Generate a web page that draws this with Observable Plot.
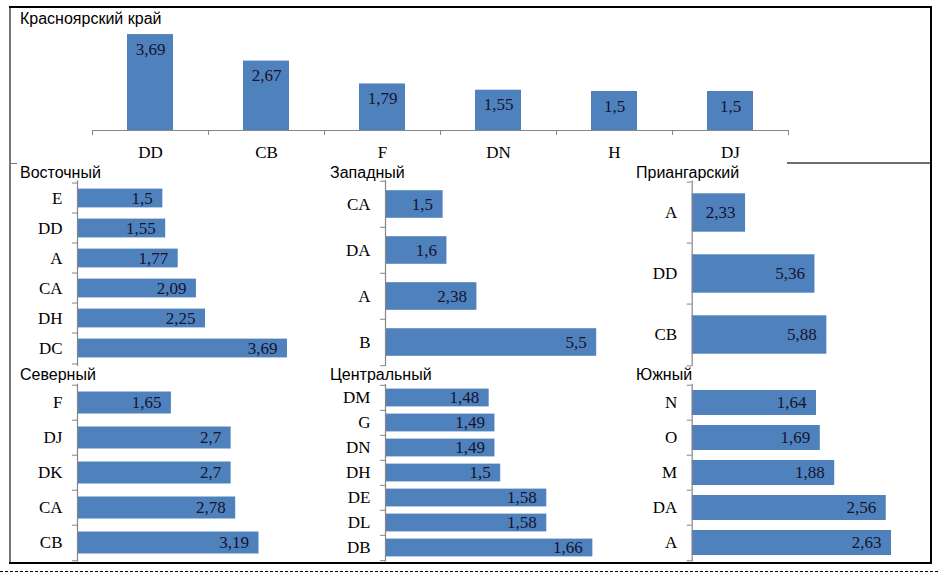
<!DOCTYPE html>
<html>
<head>
<meta charset="utf-8">
<script src="https://cdn.jsdelivr.net/npm/d3@7"></script>
<script src="https://cdn.jsdelivr.net/npm/@observablehq/plot@0.6"></script>
<style>
  body { margin: 0; background: #fff; }
  #wrap { position: relative; width: 938px; height: 572px; overflow: hidden; background: #fff; }
  .title { position: absolute; font-family: "Liberation Sans", Arial, sans-serif; font-size: 16px; line-height: 16px; color: #000; white-space: nowrap; }
  .ln { position: absolute; }
</style>
</head>
<body>
<div id="wrap"></div>
<script>
// ---- data ----
const krayCategories = ["DD", "CB", "F", "DN", "H", "DJ"];
const krayValues = [3.69, 2.67, 1.79, 1.55, 1.5, 1.5];

const vostCategories = ["E", "DD", "A", "CA", "DH", "DC"];
const vostValues = [1.5, 1.55, 1.77, 2.09, 2.25, 3.69];

const zapCategories = ["CA", "DA", "A", "B"];
const zapValues = [1.5, 1.6, 2.38, 5.5];

const priCategories = ["A", "DD", "CB"];
const priValues = [2.33, 5.36, 5.88];

const sevCategories = ["F", "DJ", "DK", "CA", "CB"];
const sevValues = [1.65, 2.7, 2.7, 2.78, 3.19];

const cenCategories = ["DM", "G", "DN", "DH", "DE", "DL", "DB"];
const cenValues = [1.48, 1.49, 1.49, 1.5, 1.58, 1.58, 1.66];

const yugCategories = ["N", "O", "M", "DA", "A"];
const yugValues = [1.64, 1.69, 1.88, 2.56, 2.63];

const titles = ["Красноярский край", "Восточный", "Западный", "Приангарский", "Северный", "Центральный", "Южный"];

// ---- styling / layout ----
const W = 938, H = 572;
const BLUE = "#4f81bd";
const AXIS = "#868686";
const VALUE_COLOR = "#141430";
const SERIF = "'Liberation Serif', 'Times New Roman', serif";
const fmt = v => String(v).replace(".", ",");
const svgStyle = `position:absolute;left:0;top:0;background:transparent;overflow:visible;font-family:${SERIF};font-size:17px;color:#000;max-width:none;`;

const wrap = document.getElementById("wrap");

function line(css) {
  const d = document.createElement("div");
  d.className = "ln";
  d.style.cssText = css;
  wrap.appendChild(d);
}
function title(text, left, top) {
  const d = document.createElement("div");
  d.className = "title";
  d.textContent = text;
  d.style.left = left + "px";
  d.style.top = top + "px";
  wrap.appendChild(d);
}

// frame
line("left:9px;top:6px;width:1.5px;height:557px;background:#777;");
line("left:9px;top:162.5px;width:8px;height:1.5px;background:#777;");
line("left:787px;top:162px;width:143px;height:2px;background:#6e6e6e;");
line("left:9px;top:5.5px;width:922px;height:2px;background:#000;");
line("left:929.5px;top:5.5px;width:2px;height:558px;background:#000;");
line("left:9px;top:561.5px;width:922px;height:2px;background:#000;");
line("left:0;top:571px;width:938px;height:0;border-top:1px dashed #000;");

// ---- top column chart ----
function columnPanel(cats, vals, opt) {
  const data = cats.map((c, i) => ({cat: c, value: vals[i]}));
  const step = (opt.right - opt.left) / cats.length;
  return Plot.plot({
    width: W, height: H,
    marginLeft: opt.left, marginRight: W - opt.right,
    marginTop: opt.top, marginBottom: H - opt.bottom,
    style: svgStyle,
    x: {domain: cats, padding: 0, tickSize: 0, tickPadding: 15, label: null},
    y: {domain: opt.yDomain, axis: null},
    marks: [
      Plot.barY(data, {x: "cat", y: "value", fill: BLUE, insetLeft: opt.inset, insetRight: opt.inset}),
      Plot.ruleY([opt.yDomain[0]], {stroke: AXIS, strokeWidth: 1.2}),
      Plot.ruleX(cats, {x: d => d, y1: opt.yDomain[0], y2: opt.yDomain[0], insetTop: 5, dx: -step / 2, stroke: AXIS}),
      Plot.ruleX([cats[cats.length - 1]], {x: d => d, y1: opt.yDomain[0], y2: opt.yDomain[0], insetTop: 5, dx: step / 2, stroke: AXIS}),
      Plot.text(data, {x: "cat", y: "value", text: d => fmt(d.value), lineAnchor: "top", dy: 8, fill: VALUE_COLOR, fontSize: 17})
    ]
  });
}

// ---- horizontal bar panels ----
function barPanel(cats, vals, opt) {
  const data = cats.map((c, i) => ({cat: c, value: vals[i]}));
  const n = cats.length;
  const step = (opt.bottom - opt.top) / n;
  const x0 = opt.xDomain[0];
  return Plot.plot({
    width: W, height: H,
    marginLeft: opt.left, marginRight: W - opt.right,
    marginTop: opt.top, marginBottom: H - opt.bottom,
    style: svgStyle,
    x: {domain: opt.xDomain, axis: null},
    y: {domain: cats, padding: 0, tickSize: 0, tickPadding: 15, label: null},
    marks: [
      Plot.barX(data, {x1: x0, x2: "value", y: "cat", fill: BLUE, insetTop: opt.inset, insetBottom: opt.inset}),
      Plot.ruleX([x0], {stroke: AXIS, strokeWidth: 1.2}),
      Plot.ruleY(cats, {y: d => d, x1: x0, x2: x0, insetRight: 5, dy: -step / 2, stroke: AXIS}),
      Plot.ruleY([cats[n - 1]], {y: d => d, x1: x0, x2: x0, insetRight: 5, dy: step / 2, stroke: AXIS}),
      Plot.text(data, {x: "value", y: "cat", text: d => fmt(d.value), textAnchor: "end", dx: -10, fill: VALUE_COLOR, fontSize: 17})
    ]
  });
}

const panels = [
  columnPanel(krayCategories, krayValues, {left: 92, right: 788, top: 26, bottom: 130, yDomain: [0, 4], inset: 35}),
  barPanel(vostCategories, vostValues, {left: 77, right: 304.6, top: 180.5, bottom: 366, xDomain: [0, 4], inset: 5.6}),
  barPanel(zapCategories, zapValues, {left: 385, right: 615.4, top: 180, bottom: 366, xDomain: [0, 6], inset: 9.2}),
  barPanel(priCategories, priValues, {left: 691.7, right: 920.7, top: 180.5, bottom: 366, xDomain: [0, 10], inset: 11.3}),
  barPanel(sevCategories, sevValues, {left: 77, right: 304.6, top: 383.7, bottom: 561.6, xDomain: [0, 4], inset: 6.5}),
  barPanel(cenCategories, cenValues, {left: 385, right: 615.4, top: 384, bottom: 561.4, xDomain: [1.3, 1.7], inset: 3.6}),
  barPanel(yugCategories, yugValues, {left: 691.7, right: 919.1, top: 383.7, bottom: 561.6, xDomain: [0, 3], inset: 5})
];
panels.forEach(p => wrap.appendChild(p));

// titles
const titlePos = [[20, 10.5], [20, 164.5], [330, 164.5], [636, 164.5], [20, 367], [330, 367], [636, 367]];
titles.forEach((t, i) => title(t, titlePos[i][0], titlePos[i][1]));
</script>
</body>
</html>
